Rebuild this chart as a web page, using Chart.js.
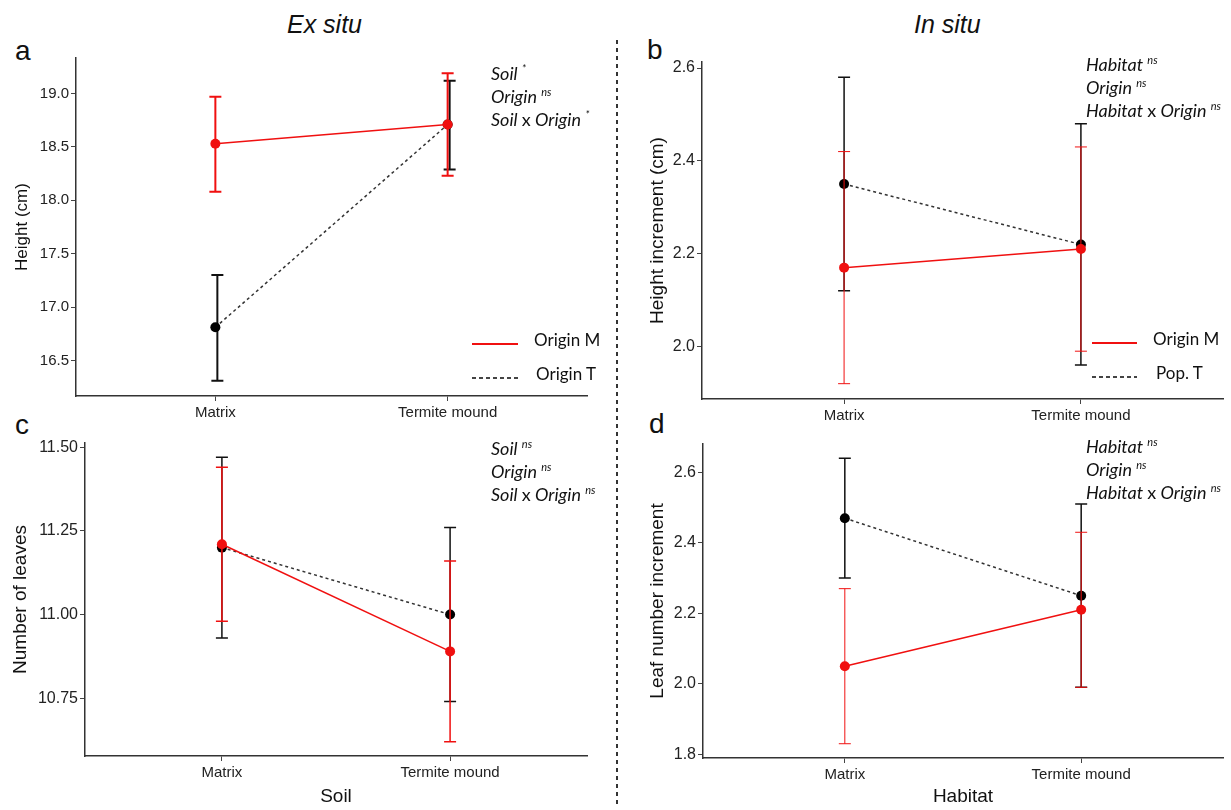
<!DOCTYPE html>
<html>
<head>
<meta charset="utf-8">
<script src="https://cdn.jsdelivr.net/npm/chart.js@4.4.0/dist/chart.umd.min.js"></script>
<style>
body { margin: 0; background: #fff; width: 1231px; height: 810px; position: relative; overflow: hidden; font-family: "Liberation Sans", Arial, sans-serif; color: #111; }
canvas { position: absolute; }
.txt { position: absolute; white-space: nowrap; line-height: 1; }
.head { font-size: 25px; font-style: italic; }
.letter { font-size: 28px; }
.note { position: absolute; font-family: Lato, "Open Sans", sans-serif; font-style: italic; font-size: 18px; line-height: 23px; white-space: nowrap; color: #111; }
.note sup { font-size: 11px; vertical-align: 7px; line-height: 0; }
.note .up { font-style: normal; }
.leg { position: absolute; font-family: Lato, "Open Sans", sans-serif; font-size: 17px; line-height: 1; white-space: nowrap; transform: translateY(-50%); }
.solid { position: absolute; height: 2px; background: #f01010; }
.dash { position: absolute; height: 1.5px; background: repeating-linear-gradient(to right, #444 0 4px, transparent 4px 7px); }
.divider { position: absolute; left: 616px; top: 40px; width: 1.5px; height: 768px; background: repeating-linear-gradient(to bottom, #333 0 4px, transparent 4px 8px); }
</style>
</head>
<body>
<div class="txt head" style="left:287px; top:12px;">Ex situ</div>
<div class="txt head" style="left:914px; top:12px;">In situ</div>
<div class="divider"></div>

<div class="txt letter" style="left:15px; top:37px;">a</div>
<div class="txt letter" style="left:647px; top:36px;">b</div>
<div class="txt letter" style="left:15px; top:411px;">c</div>
<div class="txt letter" style="left:649px; top:410px;">d</div>

<canvas id="chartA" width="600" height="382" style="left:0px; top:46px;"></canvas>
<canvas id="chartB" width="595" height="381" style="left:636px; top:50px;"></canvas>
<canvas id="chartC" width="600" height="379" style="left:0px; top:431px;"></canvas>
<canvas id="chartD" width="595" height="378" style="left:636px; top:432px;"></canvas>

<div class="note" style="left:491px; top:62px;">
  Soil <sup>*</sup><br>Origin <sup>ns</sup><br>Soil <span class="up">x</span> Origin <sup>*</sup>
</div>
<div class="note" style="left:1086px; top:53px;">
  Habitat <sup>ns</sup><br>Origin <sup>ns</sup><br>Habitat <span class="up">x</span> Origin <sup>ns</sup>
</div>
<div class="note" style="left:491px; top:437px;">
  Soil <sup>ns</sup><br>Origin <sup>ns</sup><br>Soil <span class="up">x</span> Origin <sup>ns</sup>
</div>
<div class="note" style="left:1086px; top:435px;">
  Habitat <sup>ns</sup><br>Origin <sup>ns</sup><br>Habitat <span class="up">x</span> Origin <sup>ns</sup>
</div>

<div class="solid" style="left:472px; top:343px; width:46px;"></div>
<div class="leg" style="left:534px; top:339px;">Origin M</div>
<div class="dash" style="left:472px; top:377px; width:46px;"></div>
<div class="leg" style="left:536px; top:373px;">Origin T</div>

<div class="solid" style="left:1092px; top:342px; width:45px;"></div>
<div class="leg" style="left:1153px; top:338px;">Origin M</div>
<div class="dash" style="left:1092px; top:376px; width:45px;"></div>
<div class="leg" style="left:1156px; top:372px;">Pop. T</div>

<script>
const categories = ['Matrix', 'Termite mound'];

// a - ex situ, height
const heightM = [18.53, 18.71];
const heightMLow = [18.08, 18.23];
const heightMHigh = [18.97, 19.19];
const heightT = [16.81, 18.71];
const heightTLow = [16.31, 18.29];
const heightTHigh = [17.30, 19.12];
const heightTicks = [16.5, 17.0, 17.5, 18.0, 18.5, 19.0];

// b - in situ, height increment
const incM = [2.17, 2.21];
const incMLow = [1.92, 1.99];
const incMHigh = [2.42, 2.43];
const incT = [2.35, 2.22];
const incTLow = [2.12, 1.96];
const incTHigh = [2.58, 2.48];
const incTicks = [2.0, 2.2, 2.4, 2.6];

// c - ex situ, number of leaves
const leavesM = [11.21, 10.89];
const leavesMLow = [10.98, 10.62];
const leavesMHigh = [11.44, 11.16];
const leavesT = [11.20, 11.00];
const leavesTLow = [10.93, 10.74];
const leavesTHigh = [11.47, 11.26];
const leavesTicks = [10.75, 11.00, 11.25, 11.50];

// d - in situ, leaf number increment
const leafIncM = [2.05, 2.21];
const leafIncMLow = [1.83, 1.99];
const leafIncMHigh = [2.27, 2.43];
const leafIncT = [2.47, 2.25];
const leafIncTLow = [2.30, 1.99];
const leafIncTHigh = [2.64, 2.51];
const leafIncTicks = [1.8, 2.0, 2.2, 2.4, 2.6];

const RED = '#f01010';
const BLACK = '#111';

// Error bars, drawn just before each dataset so layering follows dataset order
const errorBars = {
    id: 'errorBars',
    beforeDatasetDraw(chart, args) {
        const ds = chart.data.datasets[args.index];
        if (!ds.low) return;
        const ctx = chart.ctx;
        const x = chart.scales.x;
        const y = chart.scales.y;
        ctx.save();
        ctx.strokeStyle = ds.errColor;
        ctx.lineWidth = ds.errWidth;
        ctx.setLineDash([]);
        ds.data.forEach((p, i) => {
            const px = x.getPixelForValue(p.x) + (ds.dodge || 0);
            const top = y.getPixelForValue(ds.high[i]);
            const bot = y.getPixelForValue(ds.low[i]);
            ctx.beginPath();
            ctx.moveTo(px, top); ctx.lineTo(px, bot);
            ctx.moveTo(px - 6, top); ctx.lineTo(px + 6, top);
            ctx.moveTo(px - 6, bot); ctx.lineTo(px + 6, bot);
            ctx.stroke();
        });
        ctx.restore();
    }
};

function toPoints(values) {
    return values.map((v, i) => ({ x: i + 1, y: v }));
}

function makePanel(id, o) {
    const lo = Math.min(...o.mLow, ...o.tLow);
    const hi = Math.max(...o.mHigh, ...o.tHigh);
    const pad = (hi - lo) * 0.05;
    return new Chart(document.getElementById(id), {
        type: 'line',
        data: {
            datasets: [
                {
                    data: toPoints(o.m), low: o.mLow, high: o.mHigh,
                    borderColor: RED, backgroundColor: RED, borderWidth: 1.5,
                    pointRadius: 5, pointBorderWidth: 0,
                    errColor: RED, errWidth: o.redErr
                },
                {
                    data: toPoints(o.t), low: o.tLow, high: o.tHigh,
                    borderColor: '#333', backgroundColor: '#000', borderWidth: 1.5, borderDash: [3, 3],
                    pointRadius: 5, pointBorderWidth: 0,
                    errColor: BLACK, errWidth: o.blackErr, dodge: o.dodge || 0
                }
            ]
        },
        options: {
            responsive: false,
            animation: false,
            layout: { padding: { top: 12, right: o.padRight, left: 0, bottom: 0 } },
            plugins: { legend: { display: false }, tooltip: { enabled: false } },
            scales: {
                x: {
                    type: 'linear', min: 0.4, max: 2.6,
                    afterBuildTicks: s => { s.ticks = categories.map((c, i) => ({ value: i + 1 })); },
                    afterFit: s => { s.height = o.xh; },
                    ticks: {
                        callback: v => categories[v - 1],
                        font: { family: '"Liberation Sans", Arial', size: 15 },
                        color: '#222', padding: 3, maxRotation: 0, autoSkip: false
                    },
                    grid: { drawOnChartArea: false, tickLength: 5, color: '#444' },
                    border: { color: '#333', width: 1.5 },
                    title: o.xTitle ? {
                        display: true, text: o.xTitle, color: '#111',
                        font: { family: '"Liberation Sans", Arial', size: 19 },
                        padding: { top: 0, bottom: 2 }
                    } : { display: false }
                },
                y: {
                    min: lo - pad, max: hi + pad,
                    afterBuildTicks: s => { s.ticks = o.ticks.map(v => ({ value: v })); },
                    afterFit: s => { s.width = o.yw; },
                    ticks: {
                        callback: v => v.toFixed(o.dec),
                        font: { family: '"Liberation Sans", Arial', size: o.tickSize },
                        color: '#222', padding: 2
                    },
                    grid: { drawOnChartArea: false, tickLength: 5, color: '#444' },
                    border: { color: '#333', width: 1.5 },
                    title: {
                        display: true, text: o.yTitle, color: '#111',
                        font: { family: '"Liberation Sans", Arial', size: o.titleSize },
                        padding: { top: o.titlePad, bottom: 0 }
                    }
                }
            }
        },
        plugins: [errorBars]
    });
}

makePanel('chartA', {
    m: heightM, mLow: heightMLow, mHigh: heightMHigh,
    t: heightT, tLow: heightTLow, tHigh: heightTHigh,
    ticks: heightTicks, dec: 1, yTitle: 'Height (cm)',
    yw: 76, xh: 32, padRight: 13, tickSize: 15, titleSize: 17, titlePad: 12,
    redErr: 2, blackErr: 2, dodge: 2
});

makePanel('chartB', {
    m: incM, mLow: incMLow, mHigh: incMHigh,
    t: incT, tLow: incTLow, tHigh: incTHigh,
    ticks: incTicks, dec: 1, yTitle: 'Height increment (cm)',
    yw: 66, xh: 32, padRight: 8, tickSize: 16, titleSize: 19, titlePad: 10,
    redErr: 1, blackErr: 1.5
});

makePanel('chartC', {
    m: leavesM, mLow: leavesMLow, mHigh: leavesMHigh,
    t: leavesT, tLow: leavesTLow, tHigh: leavesTHigh,
    ticks: leavesTicks, dec: 2, yTitle: 'Number of leaves', xTitle: 'Soil',
    yw: 85, xh: 54, padRight: 13, tickSize: 16, titleSize: 19, titlePad: 9,
    redErr: 1.5, blackErr: 1.5
});

makePanel('chartD', {
    m: leafIncM, mLow: leafIncMLow, mHigh: leafIncMHigh,
    t: leafIncT, tLow: leafIncTLow, tHigh: leafIncTHigh,
    ticks: leafIncTicks, dec: 1, yTitle: 'Leaf number increment', xTitle: 'Habitat',
    yw: 67, xh: 52, padRight: 8, tickSize: 16, titleSize: 19, titlePad: 10,
    redErr: 1, blackErr: 1.5
});
</script>
</body>
</html>
